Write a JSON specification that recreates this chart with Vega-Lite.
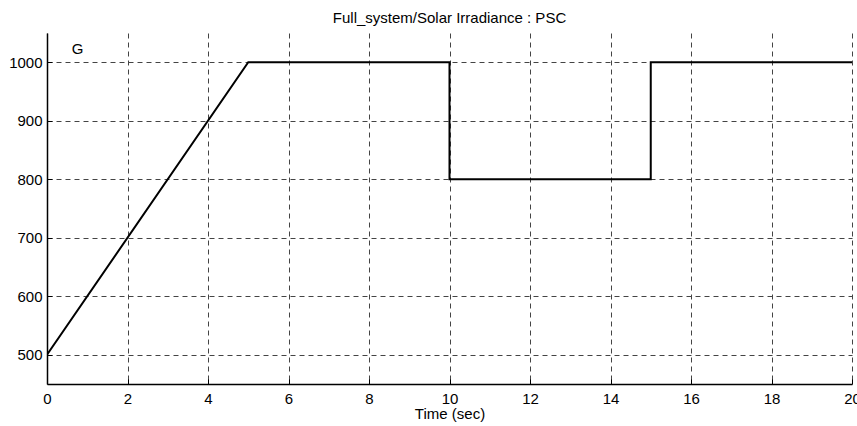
{
  "$schema": "https://vega.github.io/schema/vega-lite/v6.json",
  "autosize": "none",
  "width": 805,
  "height": 351,
  "padding": {"left": 47, "top": 33, "right": 5, "bottom": 42},
  "background": "white",
  "title": {"text": "Full_system/Solar Irradiance : PSC", "font": "Liberation Sans", "fontSize": 15, "fontWeight": "normal", "color": "black", "offset": 7},
  "config": {"view": {"stroke": null}},
  "layer": [
    {
      "data": {"values": [
        {"t": 0, "G": 500},
        {"t": 5, "G": 1000},
        {"t": 10, "G": 1000},
        {"t": 10, "G": 800},
        {"t": 15, "G": 800},
        {"t": 15, "G": 1000},
        {"t": 20, "G": 1000}
      ]},
      "mark": {"type": "line", "color": "black", "strokeWidth": 2, "clip": true},
      "encoding": {
        "x": {"field": "t", "type": "quantitative", "scale": {"domain": [0, 20], "nice": false, "zero": false},
          "axis": {"title": "Time (sec)", "values": [0,2,4,6,8,10,12,14,16,18,20], "format": "d", "grid": true, "gridColor": "#444", "gridDash": [5, 4], "gridOpacity": 1, "gridWidth": 1,
            "domainColor": "black", "domainWidth": 1.5, "tickColor": "black", "tickSize": -5, "tickWidth": 1,
            "labelFont": "Liberation Sans", "labelFontSize": 15, "labelColor": "black", "labelPadding": 12, "labelFlush": false,
            "titleFont": "Liberation Sans", "titleFontSize": 15, "titleFontWeight": "normal", "titleColor": "black", "titlePadding": 0}},
        "y": {"field": "G", "type": "quantitative", "scale": {"domain": [450, 1050], "nice": false, "zero": false},
          "axis": {"title": null, "values": [500,600,700,800,900,1000], "format": "d", "grid": true, "gridColor": "#444", "gridDash": [5, 4], "gridOpacity": 1, "gridWidth": 1,
            "domainColor": "black", "domainWidth": 1.5, "tickColor": "black", "tickSize": -5, "tickWidth": 1,
            "labelFont": "Liberation Sans", "labelFontSize": 15, "labelColor": "black", "labelPadding": 10}}
      }
    },
    {
      "data": {"values": [{"t": 0.76, "G": 1022, "label": "G"}]},
      "mark": {"type": "text", "font": "Liberation Sans", "fontSize": 15, "color": "black", "align": "center", "baseline": "middle"},
      "encoding": {
        "x": {"field": "t", "type": "quantitative"},
        "y": {"field": "G", "type": "quantitative"},
        "text": {"field": "label"}
      }
    }
  ]
}
